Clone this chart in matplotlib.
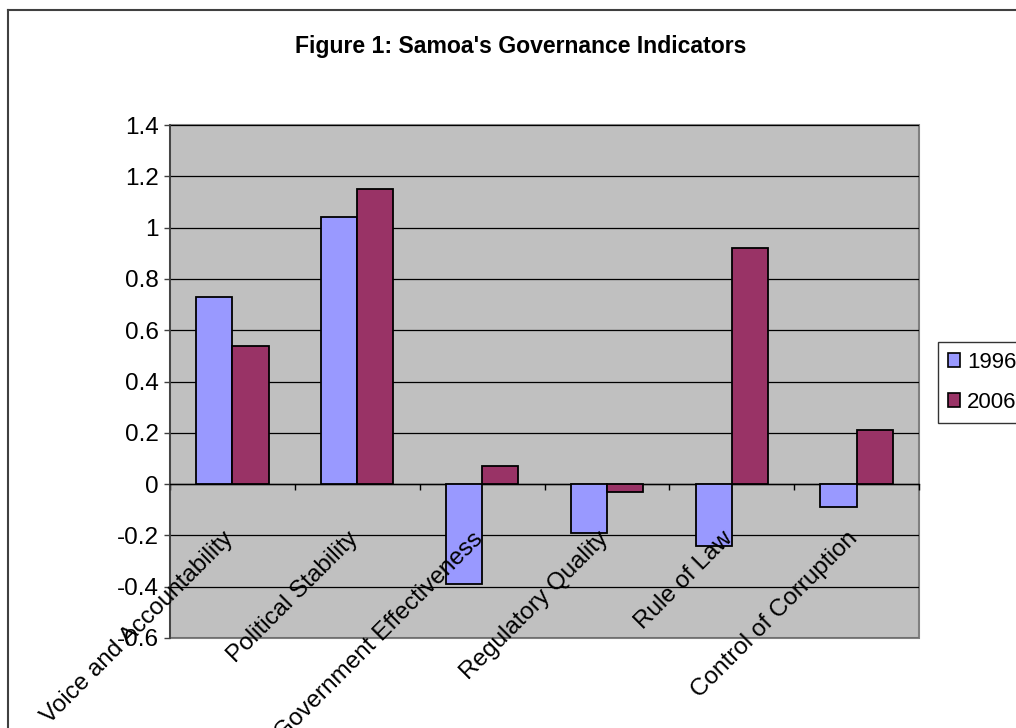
import matplotlib
matplotlib.use("Agg")
import matplotlib.pyplot as plt
from matplotlib.patches import Rectangle, Patch
from matplotlib.lines import Line2D
import numpy as np

plt.rcParams['font.family'] = ['Liberation Sans', 'DejaVu Sans']

categories = ["Voice and Accountability", "Political Stability", "Government Effectiveness",
              "Regulatory Quality", "Rule of Law", "Control of Corruption"]
series_names = ["1996", "2006"]
values_1996 = [0.73, 1.04, -0.39, -0.19, -0.24, -0.09]
values_2006 = [0.54, 1.15, 0.07, -0.03, 0.92, 0.21]
y_ticks = [-0.6, -0.4, -0.2, 0, 0.2, 0.4, 0.6, 0.8, 1.0, 1.2, 1.4]
y_tick_labels = ["-0.6", "-0.4", "-0.2", "0", "0.2", "0.4", "0.6", "0.8", "1", "1.2", "1.4"]
title = "Figure 1: Samoa's Governance Indicators"

W, H = 1016, 728
fig = plt.figure(figsize=(W / 100, H / 100), dpi=100)
fig.patch.set_facecolor('white')

# outer chart frame (left and top visible)
fig.add_artist(Line2D([8 / W, 8 / W], [0, 1 - 10 / H], color='#404040', lw=1.5))
fig.add_artist(Line2D([8 / W, 1], [1 - 10 / H, 1 - 10 / H], color='#404040', lw=1.5))

left, right, top, bottom = 170, 919, 125, 638
ax = fig.add_axes([left / W, 1 - bottom / H, (right - left) / W, (bottom - top) / H])
ax.set_facecolor('#C0C0C0')

c1996 = '#9999FF'
c2006 = '#993366'
n = len(categories)
x = np.arange(n) + 0.5
bw = 0.29
ax.bar(x - bw / 2, values_1996, width=bw, color=c1996, edgecolor='black', linewidth=1.3, zorder=3)
ax.bar(x + bw / 2, values_2006, width=bw, color=c2006, edgecolor='black', linewidth=1.3, zorder=3)

ax.set_xlim(0, n)
ax.set_ylim(-0.6, 1.4)
ax.set_yticks(y_ticks)
ax.set_yticklabels(y_tick_labels, fontsize=17.5)
ax.yaxis.grid(True, color='black', lw=0.9, zorder=1)
ax.set_axisbelow(True)
ax.tick_params(axis='y', direction='out', length=4.3, width=1, pad=4, color='#404040')

# category axis at zero
ax.spines['bottom'].set_position(('data', 0))
ax.spines['bottom'].set_color('black')
ax.spines['bottom'].set_linewidth(1)
ax.set_xticks(np.arange(0, n + 1))
ax.set_xticklabels([''] * (n + 1))
ax.tick_params(axis='x', direction='out', length=4.3, width=1, color='black')
ax.spines['top'].set_visible(False)
ax.spines['right'].set_visible(False)
ax.spines['left'].set_color('#404040')
ax.spines['left'].set_linewidth(1.3)
ax.add_patch(Rectangle((0, 0), 1, 1, transform=ax.transAxes, fill=False,
                       edgecolor='#808080', lw=1.5, clip_on=False, zorder=0.5))

for xi, lab in zip(x, categories):
    ax.text(xi - 0.08, -0.17, lab, rotation=45, ha='right', va='top',
            rotation_mode='anchor', fontsize=17.5, zorder=5, clip_on=False)

fig.text(521 / W, 1 - 47 / H, title, ha='center', va='center', fontsize=16.6, fontweight='bold')

handles = [Patch(facecolor=c1996, edgecolor='black', lw=1.2),
           Patch(facecolor=c2006, edgecolor='black', lw=1.2)]
leg = fig.legend(handles, series_names, loc='upper left', bbox_to_anchor=(938 / W, 1 - 342 / H),
                 fontsize=16, frameon=True, fancybox=False, edgecolor='black',
                 handlelength=0.55, handleheight=0.55, handletextpad=0.3,
                 labelspacing=0.85, borderpad=0.45, borderaxespad=0)
leg.get_frame().set_linewidth(1.0)

fig.savefig('out.png', dpi=100, facecolor='white')
